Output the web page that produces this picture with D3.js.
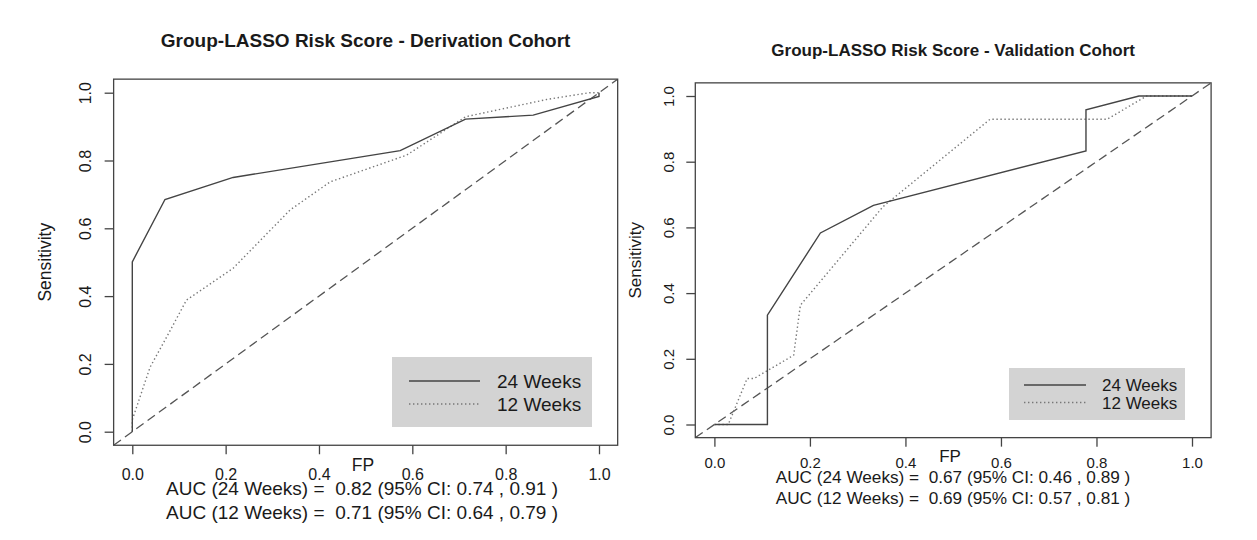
<!DOCTYPE html>
<html><head><meta charset="utf-8">
<script src="https://cdn.jsdelivr.net/npm/d3@7"></script>
<style>
html,body{margin:0;padding:0;background:#fff;}
svg{display:block;font-family:"Liberation Sans",Arial,Helvetica,sans-serif;}
</style></head>
<body>
<svg id="chart" width="1257" height="540"></svg>
<script>
// ---- data ----
const ticks = [0, 0.2, 0.4, 0.6, 0.8, 1.0];
const tickLabels = ["0.0", "0.2", "0.4", "0.6", "0.8", "1.0"];
const seriesNames = ["24 Weeks", "12 Weeks"];
const titles = ["Group-LASSO Risk Score - Derivation Cohort", "Group-LASSO Risk Score - Validation Cohort"];
const xLabel = "FP";
const yLabel = "Sensitivity";

// Derivation cohort
const derivFpr24 = [0, 0, 0.07, 0.216, 0.574, 0.714, 0.859, 1.0, 1.0];
const derivTpr24 = [0, 0.501, 0.685, 0.75, 0.829, 0.922, 0.934, 0.989, 1.0];
const derivFpr12 = [0, 0, 0.038, 0.07, 0.116, 0.216, 0.338, 0.424, 0.588, 0.714, 0.888, 0.98, 1.0];
const derivTpr12 = [0, 0.035, 0.19, 0.27, 0.388, 0.482, 0.654, 0.737, 0.816, 0.929, 0.98, 1.0, 1.0];
const derivAuc = ["AUC (24 Weeks) =  0.82 (95% CI: 0.74 , 0.91 )", "AUC (12 Weeks) =  0.71 (95% CI: 0.64 , 0.79 )"];

// Validation cohort
const validFpr24 = [0, 0.111, 0.111, 0.222, 0.333, 0.778, 0.778, 0.889, 1.0];
const validTpr24 = [0, 0, 0.333, 0.583, 0.667, 0.833, 0.958, 1.0, 1.0];
const validFpr12 = [0, 0.029, 0.0685, 0.083, 0.166, 0.18, 0.353, 0.577, 0.822, 0.905, 1.0];
const validTpr12 = [0, 0, 0.14, 0.14, 0.211, 0.363, 0.663, 0.929, 0.929, 1.0, 1.0];
const validAuc = ["AUC (24 Weeks) =  0.67 (95% CI: 0.46 , 0.89 )", "AUC (12 Weeks) =  0.69 (95% CI: 0.57 , 0.81 )"];

// ---- drawing ----
const svg = d3.select("#chart");
const TXT = "#1a1a1a";

function panel(cfg) {
  const x = d3.scaleLinear().domain([0, 1]).range(cfg.xr);
  const y = d3.scaleLinear().domain([0, 1]).range(cfg.yr);
  const bx0 = x(-0.04), bx1 = x(1.04), by0 = y(-0.04), by1 = y(1.04);
  const g = svg.append("g");

  // title
  g.append("text").attr("x", (bx0 + bx1) / 2).attr("y", cfg.titleY)
    .attr("text-anchor", "middle").attr("font-weight", "bold")
    .attr("font-size", cfg.titleSize).attr("fill", TXT).text(cfg.title);

  const clipId = "clip" + cfg.id;
  svg.append("clipPath").attr("id", clipId).append("rect")
    .attr("x", bx0).attr("y", by1).attr("width", bx1 - bx0).attr("height", by0 - by1);

  const plot = g.append("g").attr("clip-path", `url(#${clipId})`);

  // diagonal reference
  plot.append("line")
    .attr("x1", x(-0.04)).attr("y1", y(-0.04)).attr("x2", x(1.04)).attr("y2", y(1.04))
    .attr("stroke", "#555").attr("stroke-width", 1.3).attr("stroke-dasharray", "9,5");

  const line = d3.line().x(d => x(d[0])).y(d => y(d[1]));
  // 12 weeks dotted
  plot.append("path").datum(d3.zip(cfg.fpr12, cfg.tpr12)).attr("d", line)
    .attr("fill", "none").attr("stroke", "#777").attr("stroke-width", 1.4)
    .attr("stroke-dasharray", "1.4,2.6");
  // 24 weeks solid
  plot.append("path").datum(d3.zip(cfg.fpr24, cfg.tpr24)).attr("d", line)
    .attr("fill", "none").attr("stroke", "#444").attr("stroke-width", 1.4);

  // legend
  const L = cfg.legend;
  g.append("rect").attr("x", L.x).attr("y", L.y).attr("width", L.w).attr("height", L.h)
    .attr("fill", "#d3d3d3");
  const ly = [L.line1, L.line2];
  seriesNames.forEach((name, i) => {
    g.append("line").attr("x1", L.lx0).attr("x2", L.lx1).attr("y1", ly[i]).attr("y2", ly[i])
      .attr("stroke", i === 0 ? "#444" : "#777").attr("stroke-width", 1.4)
      .attr("stroke-dasharray", i === 0 ? null : "1.4,2.6");
    g.append("text").attr("x", L.tx).attr("y", ly[i] + L.size * 0.37)
      .attr("font-size", L.size).attr("fill", TXT).text(name);
  });

  // box
  g.append("rect").attr("x", bx0).attr("y", by1).attr("width", bx1 - bx0).attr("height", by0 - by1)
    .attr("fill", "none").attr("stroke", "#444").attr("stroke-width", 1.3);

  // x axis
  const xa = g.append("g").attr("transform", `translate(0,${by0})`)
    .call(d3.axisBottom(x).tickValues(ticks).tickFormat((d, i) => tickLabels[i])
      .tickSize(cfg.tickLen).tickSizeOuter(0));
  xa.select(".domain").remove();
  xa.selectAll("line").attr("stroke", "#444").attr("stroke-width", 1.3);
  xa.selectAll("text").attr("y", cfg.xTickBase - by0).attr("dy", null)
    .attr("font-size", cfg.tickSize).attr("fill", TXT)
    .attr("font-family", "Liberation Sans, Arial, sans-serif");

  // y axis
  const ya = g.append("g").attr("transform", `translate(${bx0},0)`)
    .call(d3.axisLeft(y).tickValues(ticks).tickFormat((d, i) => tickLabels[i])
      .tickSize(cfg.tickLen).tickSizeOuter(0));
  ya.select(".domain").remove();
  ya.selectAll("line").attr("stroke", "#444").attr("stroke-width", 1.3);
  ya.selectAll("text").attr("x", null).attr("dy", null).attr("text-anchor", "middle")
    .attr("transform", `translate(${cfg.yTickCx - bx0 + cfg.tickSize * 0.36},0) rotate(-90)`)
    .attr("font-size", cfg.tickSize).attr("fill", TXT)
    .attr("font-family", "Liberation Sans, Arial, sans-serif");

  // axis labels
  g.append("text").attr("x", cfg.fpX).attr("y", cfg.fpBase).attr("text-anchor", "middle")
    .attr("font-size", cfg.labSize).attr("fill", TXT).text(xLabel);
  const sy = (y(0) + y(1)) / 2;
  g.append("text").attr("transform", `translate(${cfg.sensCx + cfg.labSize * 0.36},${sy}) rotate(-90)`)
    .attr("text-anchor", "middle").attr("font-size", cfg.labSize).attr("fill", TXT).text(yLabel);

  // AUC text
  cfg.auc.forEach((t, i) => {
    g.append("text").attr("x", cfg.aucX).attr("y", cfg.aucBase[i]).attr("text-anchor", "middle")
      .attr("font-size", cfg.aucSize).attr("fill", TXT).attr("xml:space", "preserve")
      .style("white-space", "pre").text(t);
  });
}

panel({
  id: "L", title: titles[0], titleY: 47, titleSize: 19,
  xr: [132.3, 599], yr: [431.7, 92.7],
  fpr24: derivFpr24, tpr24: derivTpr24, fpr12: derivFpr12, tpr12: derivTpr12,
  tickLen: 9, tickSize: 16, xTickBase: 480, yTickCx: 85,
  labSize: 17.5, fpX: 363, fpBase: 471, sensCx: 45,
  auc: derivAuc, aucX: 362, aucBase: [495, 519], aucSize: 19,
  legend: {x: 392, y: 357, w: 200, h: 70, lx0: 409, lx1: 480, line1: 381, line2: 404, tx: 497, size: 19}
});

panel({
  id: "R", title: titles[1], titleY: 56, titleSize: 17,
  xr: [714.4, 1192], yr: [424.5, 96],
  fpr24: validFpr24, tpr24: validTpr24, fpr12: validFpr12, tpr12: validTpr12,
  tickLen: 9, tickSize: 15, xTickBase: 468, yTickCx: 669,
  labSize: 17, fpX: 950, fpBase: 462, sensCx: 635,
  auc: validAuc, aucX: 953, aucBase: [483, 503.5], aucSize: 17.2,
  legend: {x: 1009, y: 368, w: 176, h: 52, lx0: 1024, lx1: 1086, line1: 385, line2: 402.5, tx: 1102, size: 17}
});
</script>
</body></html>
